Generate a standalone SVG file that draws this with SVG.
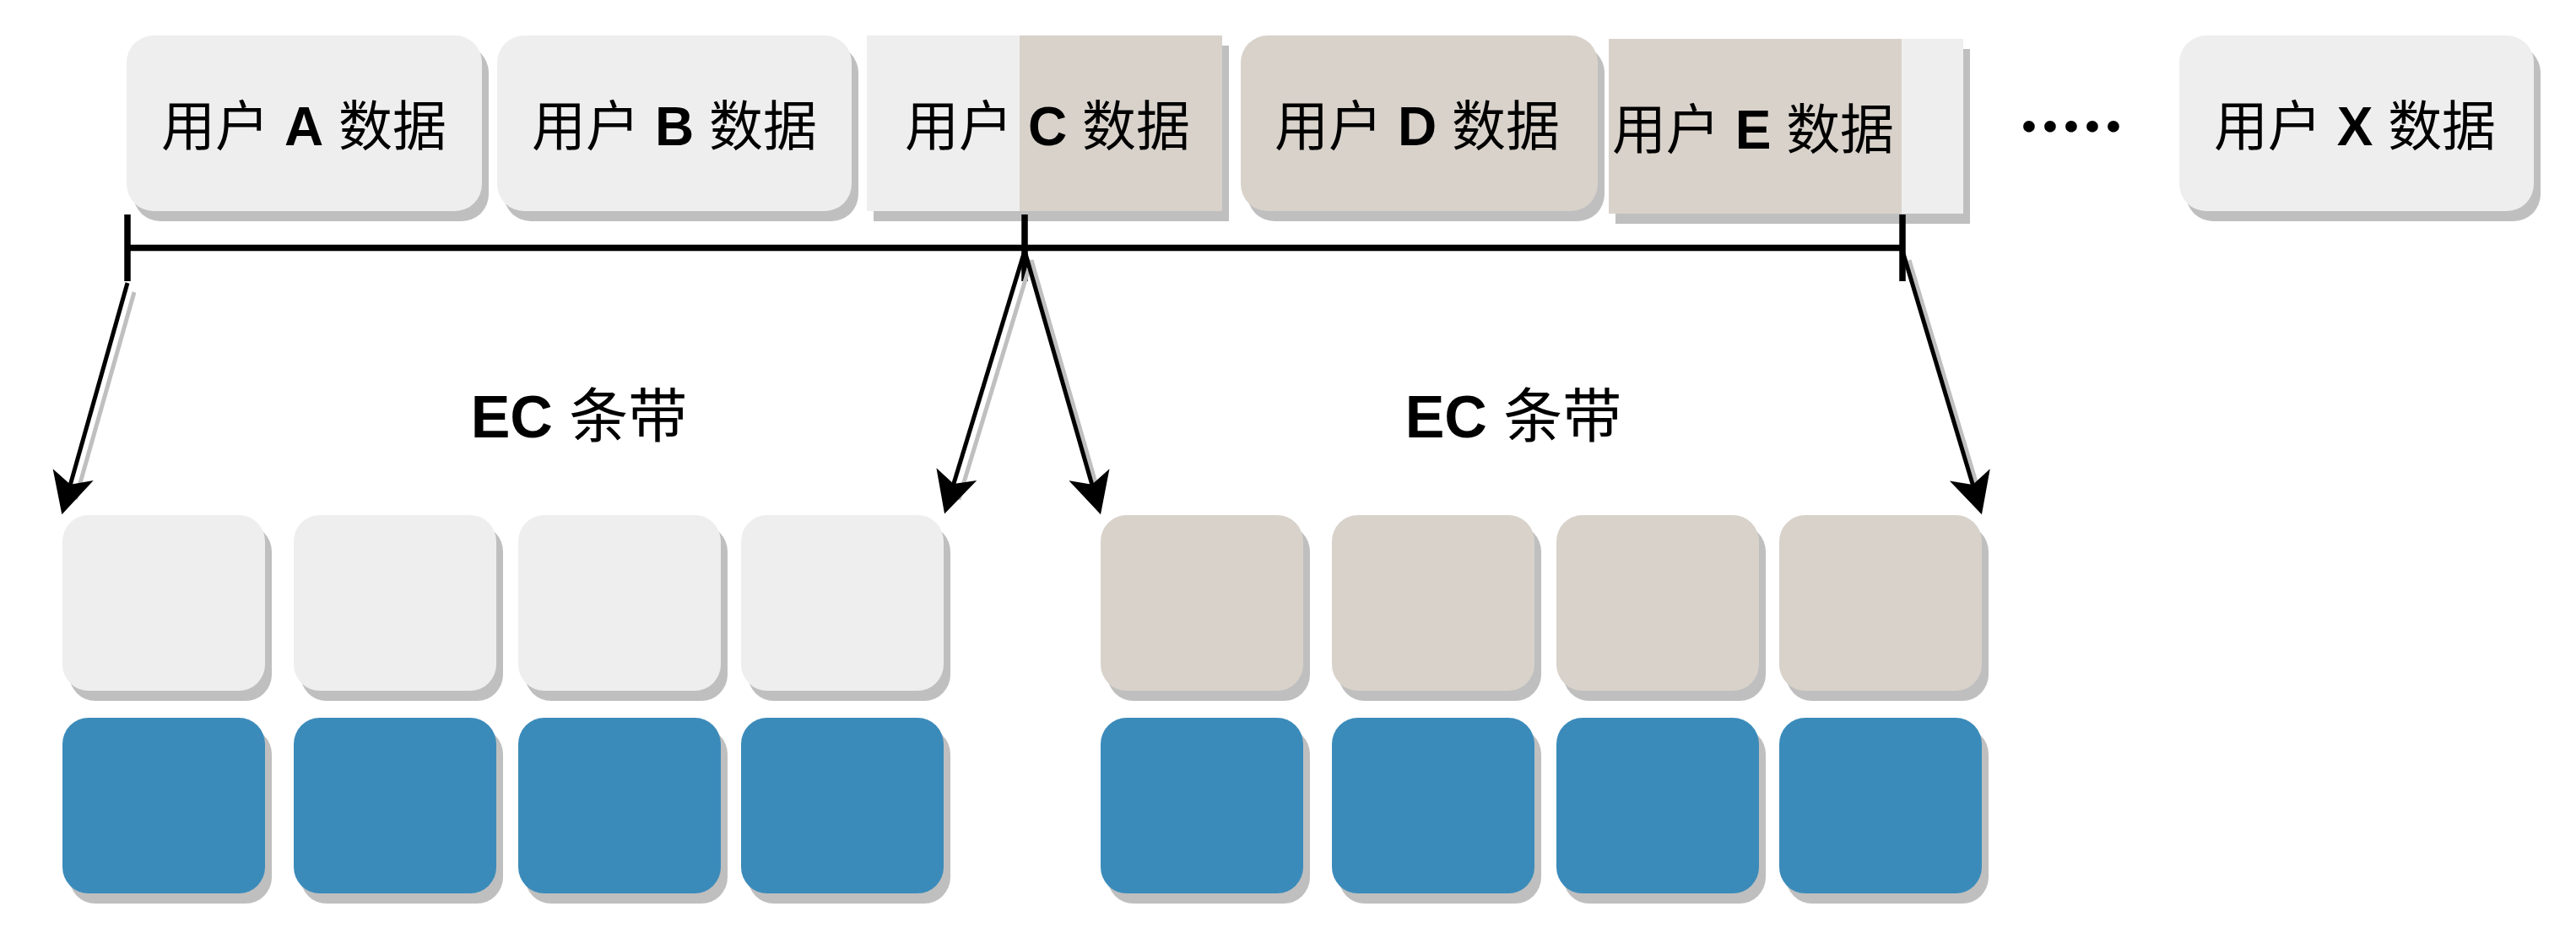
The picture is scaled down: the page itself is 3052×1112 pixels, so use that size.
<svg xmlns="http://www.w3.org/2000/svg" width="3052" height="1112" viewBox="0 0 3052 1112">
<defs>
<style>
.light{fill:#EEEEEE}
.tan{fill:#D8D2CB}
.blue{fill:#3B8BBA}
.shadow{fill:#BFBFBF}
.lbl{font-family:"Liberation Sans","Noto Sans CJK SC",sans-serif;font-size:64px;fill:#000;text-anchor:middle}
.lat{font-weight:bold}
.ec{font-size:70px}
.dots{font-family:Lato,"Noto Sans",sans-serif;font-weight:bold;font-size:90px;fill:#000;text-anchor:middle}
.bar{stroke:#000;stroke-width:7.5;fill:none}
.arr{stroke:#000;stroke-width:5;fill:none;marker-end:url(#head)}
.arrs{stroke:#BFBFBF;stroke-width:5;fill:none}
</style>
<marker id="head" markerUnits="userSpaceOnUse" viewBox="-52 -27 54 54" markerWidth="54" markerHeight="54" refX="-30" refY="0" orient="auto">
<path d="M0,0 L-49,-25 L-37,0 L-49,25 Z" fill="#000"/>
</marker>
</defs>
<rect width="3052" height="1112" fill="#FFFFFF"/>

<g id="user-a">
<rect class="shadow" x="158" y="54" width="421" height="208" rx="32"/>
<rect class="light" x="150" y="42" width="421" height="208" rx="32"/>
<text class="lbl" x="360" y="172">用户 <tspan class="lat">A</tspan> 数据</text>
</g>
<g id="user-b">
<rect class="shadow" x="597" y="54" width="420" height="208" rx="32"/>
<rect class="light" x="589" y="42" width="420" height="208" rx="32"/>
<text class="lbl" x="799" y="172">用户 <tspan class="lat">B</tspan> 数据</text>
</g>
<g id="user-c">
<rect class="shadow" x="1035" y="54" width="421" height="208"/>
<rect class="light" x="1027" y="42" width="421" height="208"/>
<rect class="tan" x="1208" y="42" width="240" height="208"/>
<text class="lbl" x="1241" y="172">用户 <tspan class="lat">C</tspan> 数据</text>
</g>
<g id="user-d">
<rect class="shadow" x="1478" y="54" width="423" height="208" rx="32"/>
<rect class="tan" x="1470" y="42" width="423" height="208" rx="32"/>
<text class="lbl" x="1679" y="172">用户 <tspan class="lat">D</tspan> 数据</text>
</g>
<g id="user-e">
<rect class="shadow" x="1914" y="58" width="420" height="207"/>
<rect class="tan" x="1906" y="46" width="347" height="207"/>
<rect class="light" x="2253" y="46" width="73" height="207"/>
<text class="lbl" x="2077" y="176">用户 <tspan class="lat">E</tspan> 数据</text>
</g>
<g id="ellipsis">
<text class="dots" x="2404 2429 2454 2479 2504" y="156">.....</text>
</g>
<g id="user-x">
<rect class="shadow" x="2590" y="54" width="420" height="208" rx="32"/>
<rect class="light" x="2582" y="42" width="420" height="208" rx="32"/>
<text class="lbl" x="2790" y="172">用户 <tspan class="lat">X</tspan> 数据</text>
</g>

<g id="label-ec-1"><text class="lbl ec" x="686" y="518"><tspan class="lat">EC</tspan> 条带</text></g>
<g id="label-ec-2"><text class="lbl ec" x="1793" y="518"><tspan class="lat">EC</tspan> 条带</text></g>

<g id="strip1-d1"><rect class="shadow" x="82" y="622" width="240" height="208" rx="31"/><rect class="light" x="74" y="610" width="240" height="208" rx="31"/></g>
<g id="strip1-d2"><rect class="shadow" x="356" y="622" width="240" height="208" rx="31"/><rect class="light" x="348" y="610" width="240" height="208" rx="31"/></g>
<g id="strip1-d3"><rect class="shadow" x="622" y="622" width="240" height="208" rx="31"/><rect class="light" x="614" y="610" width="240" height="208" rx="31"/></g>
<g id="strip1-d4"><rect class="shadow" x="886" y="622" width="240" height="208" rx="31"/><rect class="light" x="878" y="610" width="240" height="208" rx="31"/></g>
<g id="strip1-p1"><rect class="shadow" x="82" y="862" width="240" height="208" rx="31"/><rect class="blue" x="74" y="850" width="240" height="208" rx="31"/></g>
<g id="strip1-p2"><rect class="shadow" x="356" y="862" width="240" height="208" rx="31"/><rect class="blue" x="348" y="850" width="240" height="208" rx="31"/></g>
<g id="strip1-p3"><rect class="shadow" x="622" y="862" width="240" height="208" rx="31"/><rect class="blue" x="614" y="850" width="240" height="208" rx="31"/></g>
<g id="strip1-p4"><rect class="shadow" x="886" y="862" width="240" height="208" rx="31"/><rect class="blue" x="878" y="850" width="240" height="208" rx="31"/></g>

<g id="strip2-d1"><rect class="shadow" x="1312" y="622" width="240" height="208" rx="31"/><rect class="tan" x="1304" y="610" width="240" height="208" rx="31"/></g>
<g id="strip2-d2"><rect class="shadow" x="1586" y="622" width="240" height="208" rx="31"/><rect class="tan" x="1578" y="610" width="240" height="208" rx="31"/></g>
<g id="strip2-d3"><rect class="shadow" x="1852" y="622" width="240" height="208" rx="31"/><rect class="tan" x="1844" y="610" width="240" height="208" rx="31"/></g>
<g id="strip2-d4"><rect class="shadow" x="2116" y="622" width="240" height="208" rx="31"/><rect class="tan" x="2108" y="610" width="240" height="208" rx="31"/></g>
<g id="strip2-p1"><rect class="shadow" x="1312" y="862" width="240" height="208" rx="31"/><rect class="blue" x="1304" y="850" width="240" height="208" rx="31"/></g>
<g id="strip2-p2"><rect class="shadow" x="1586" y="862" width="240" height="208" rx="31"/><rect class="blue" x="1578" y="850" width="240" height="208" rx="31"/></g>
<g id="strip2-p3"><rect class="shadow" x="1852" y="862" width="240" height="208" rx="31"/><rect class="blue" x="1844" y="850" width="240" height="208" rx="31"/></g>
<g id="strip2-p4"><rect class="shadow" x="2116" y="862" width="240" height="208" rx="31"/><rect class="blue" x="2108" y="850" width="240" height="208" rx="31"/></g>

<g id="connectors">
<path class="bar" d="M151,293.5 H2254 M151,254 V333 M1214,254 V333 M2254,254 V333"/>
<path class="arrs" d="M159,346 L89.5,591.4"/>
<path class="arrs" d="M1222,308 L1135.8,591.8"/>
<path class="arrs" d="M1222,308 L1303.7,591.5"/>
<path class="arrs" d="M2262,308 L2347.3,591.6"/>
<path class="arr" d="M151,335 L81.5,580.4"/>
<path class="arr" d="M1214,297 L1127.8,579.8"/>
<path class="arr" d="M1214,297 L1295.7,580.5"/>
<path class="arr" d="M2254,297 L2339.3,580.6"/>
</g>
</svg>
